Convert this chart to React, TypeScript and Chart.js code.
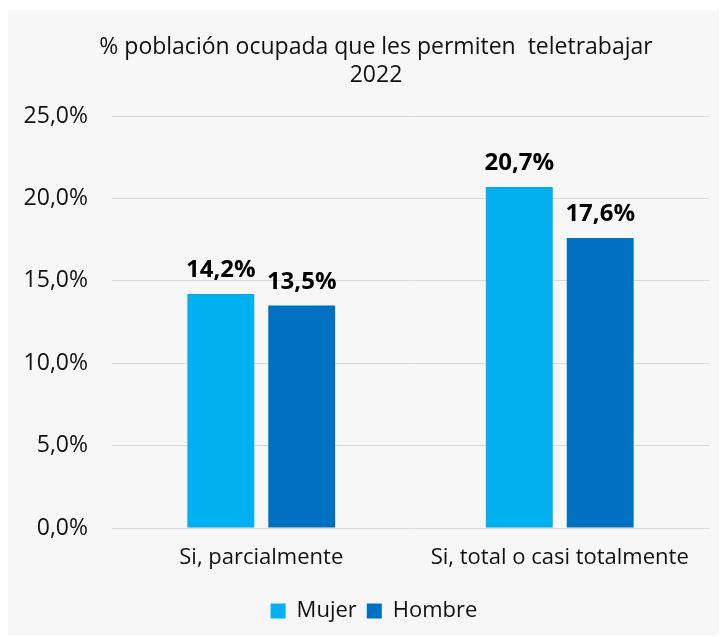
import React, { useEffect, useRef } from "react";
import { Chart, registerables } from "chart.js";

Chart.register(...registerables);

const categories = ["Si, parcialmente", "Si, total o casi totalmente"];
const mujerValues = [14.2, 20.7];
const hombreValues = [13.5, 17.6];
const seriesNames = ["Mujer", "Hombre"];
const titleLines = ["% población ocupada que les permiten  teletrabajar", "2022"];
const yTicks = [0, 5, 10, 15, 20, 25];

const FONT = "'Open Sans', sans-serif";

const fmt = (v: number, d: number) => v.toFixed(d).replace(".", ",") + "%";

const dataLabelPlugin = {
  id: "dataLabels",
  afterDatasetsDraw(chart: any) {
    const ctx = chart.ctx;
    ctx.save();
    ctx.font = `bold 24px ${FONT}`;
    ctx.fillStyle = "#000000";
    ctx.textAlign = "center";
    ctx.textBaseline = "alphabetic";
    chart.data.datasets.forEach((ds: any, i: number) => {
      const meta = chart.getDatasetMeta(i);
      meta.data.forEach((bar: any, j: number) => {
        ctx.fillText(fmt(ds.data[j], 1), bar.x, bar.y - 17);
      });
    });
    ctx.restore();
  },
};

// centre title and legend over the same span as the original image
const shiftPlugin = {
  id: "shiftBlocks",
  afterLayout(chart: any) {
    const legendShift = 16;
    const titleShift = 18;
    if (chart.legend) {
      chart.legend.left += legendShift;
      chart.legend.right += legendShift;
      if (chart.legend.legendHitBoxes) {
        chart.legend.legendHitBoxes.forEach((h: any) => (h.left += legendShift));
      }
    }
    if (chart.titleBlock) {
      chart.titleBlock.left += titleShift;
      chart.titleBlock.right += titleShift;
    }
  },
};

export default function App() {
  const ref = useRef<HTMLCanvasElement | null>(null);
  useEffect(() => {
    if (!ref.current) return;
    const chart = new Chart(ref.current, {
      type: "bar",
      data: {
        labels: categories,
        datasets: [
          {
            label: seriesNames[0],
            data: mujerValues,
            backgroundColor: "#00b0f0",
            barPercentage: 0.827,
            categoryPercentage: 0.542,
          },
          {
            label: seriesNames[1],
            data: hombreValues,
            backgroundColor: "#0070c0",
            barPercentage: 0.827,
            categoryPercentage: 0.542,
          },
        ],
      },
      options: {
        animation: false,
        responsive: false,
        maintainAspectRatio: false,
        layout: { padding: { top: 0, right: 18, bottom: 3, left: 0 } },
        plugins: {
          title: {
            display: true,
            text: titleLines,
            color: "#111111",
            font: { family: FONT, size: 23, weight: "normal", lineHeight: 1.22 },
            padding: { top: 23, bottom: 27 },
          },
          legend: {
            position: "bottom",
            labels: {
              color: "#111111",
              font: { family: FONT, size: 22 },
              boxWidth: 15,
              boxHeight: 15,
              padding: 10,
            },
          },
          tooltip: { enabled: false },
        },
        scales: {
          x: {
            grid: { display: false, drawTicks: false },
            border: { display: false },
            ticks: {
              color: "#111111",
              font: { family: FONT, size: 22 },
              padding: 17,
              maxRotation: 0,
            },
            afterFit: (scale: any) => {
              scale.height = 62;
            },
          },
          y: {
            min: 0,
            max: 25,
            afterBuildTicks: (scale: any) => {
              scale.ticks = yTicks.map((v) => ({ value: v }));
            },
            grid: { color: "#d9d9d9", lineWidth: 1, drawTicks: false },
            border: { display: false },
            ticks: {
              color: "#111111",
              font: { family: FONT, size: 23 },
              padding: 24,
              callback: (v: any) => fmt(Number(v), 1),
            },
            afterFit: (scale: any) => {
              scale.width = 105;
            },
          },
        },
      },
      plugins: [dataLabelPlugin, shiftPlugin],
    });
    return () => chart.destroy();
  }, []);
  return (
    <div
      style={{
        marginLeft: -1,
        marginTop: 2,
        width: 720,
        height: 625,
        background: "#f7f7f7",
      }}
    >
      <canvas ref={ref} width={720} height={625} style={{ display: "block" }} />
    </div>
  );
}
